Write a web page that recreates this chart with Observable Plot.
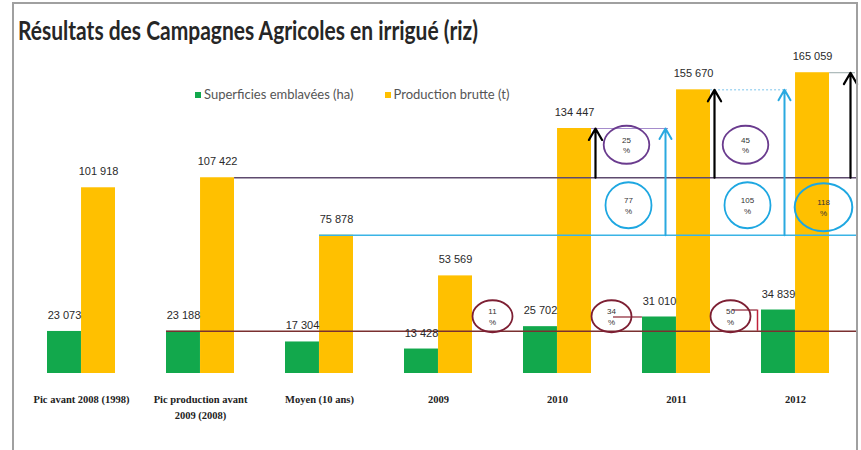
<!DOCTYPE html>
<html>
<head>
<meta charset="utf-8">
<script src="https://cdn.jsdelivr.net/npm/d3@7"></script>
<script src="https://cdn.jsdelivr.net/npm/@observablehq/plot@0.6"></script>
<style>
  html, body { margin: 0; padding: 0; background: #fff; }
  #wrap { position: relative; width: 861px; height: 450px; overflow: hidden; }
  #frame { position: absolute; left: 12px; top: 2px; width: 846px; height: 460px; border: 2px solid #a0a0a0; box-sizing: border-box; pointer-events: none; }
  #title { position: absolute; left: 18px; top: 14px; font-family: Lato, "Open Sans", sans-serif; font-weight: bold; font-size: 26px; color: #262626; white-space: nowrap; transform-origin: 0 0; }
  #legend { position: absolute; left: 195px; top: 86px; font-family: Lato, "Open Sans", sans-serif; font-size: 13px; color: #555; white-space: nowrap; }
  .sw { display: inline-block; width: 6px; height: 6px; margin-right: 3px; vertical-align: 1px; }
  .item { display: inline-block; margin-right: 31px; }
  #chart { position: absolute; left: 0; top: 0; }
</style>
</head>
<body>
<div id="wrap">
  <div id="chart"></div>
  <div id="title">Résultats des Campagnes Agricoles en irrigué (riz)</div>
  <div id="legend"></div>
  <div id="frame"></div>
</div>
<script>
// ---- data ----
const categories = ["Pic avant 2008 (1998)", "Pic production avant\n2009 (2008)", "Moyen (10 ans)", "2009", "2010", "2011", "2012"];
const superficies = [23073, 23188, 17304, 13428, 25702, 31010, 34839];
const production = [101918, 107422, 75878, 53569, 134447, 155670, 165059];
const seriesNames = ["Superficies emblavées (ha)", "Production brutte (t)"];
const seriesColors = ["#12a84c", "#ffc000"];

// reference levels
const refSup = superficies[1];      // 23 188
const refProdPic = production[1];   // 107 422
const refProdMoy = production[2];   // 75 878

// percentage annotations
const supGain = [{cat: "2010", label: "11\n%"}, {cat: "2011", label: "34\n%"}, {cat: "2012", label: "50\n%"}];
const picGain = [{cat: "2010", label: "25\n%"}, {cat: "2011", label: "45\n%"}];
const moyGain = [{cat: "2010", label: "77\n%"}, {cat: "2011", label: "105\n%"}];
const moyGain2012 = [{cat: "2012", label: "118\n%"}];

// ---- build ----
const fmt = v => d3.format(",")(v).replace(/,/g, " ");
const rows = categories.map((c, i) => ({cat: c, sup: superficies[i], prod: production[i]}));
const byCat = Object.fromEntries(rows.map(r => [r.cat, r]));
const last = categories[categories.length - 1];

const W = 861, H = 450, mL = 20, mR = 5, mT = 45, mB = 77;
const step = (W - mL - mR) / categories.length;
const bw = step * 0.57;

function ellipse(aspect) {
  return {
    draw(ctx, size) {
      const r = Math.sqrt(size / Math.PI), rx = r * aspect, ry = r, k = 0.5523;
      ctx.moveTo(rx, 0);
      ctx.bezierCurveTo(rx, k * ry, k * rx, ry, 0, ry);
      ctx.bezierCurveTo(-k * rx, ry, -rx, k * ry, -rx, 0);
      ctx.bezierCurveTo(-rx, -k * ry, -k * rx, -ry, 0, -ry);
      ctx.bezierCurveTo(k * rx, -ry, rx, -k * ry, rx, 0);
      ctx.closePath();
    }
  };
}

const lblFont = {fontFamily: "'Liberation Sans Narrow', 'Liberation Sans', sans-serif", fontSize: 11, fill: "#2a2a2a"};
const annFont = {fontFamily: "'Liberation Sans', sans-serif", fontSize: 8, fill: "#333", lineHeight: 1.3};

const chart = Plot.plot({
  width: W, height: H,
  marginLeft: mL, marginRight: mR, marginTop: mT, marginBottom: mB,
  x: {type: "band", domain: categories, paddingInner: 0.43, paddingOuter: 0.215, axis: null},
  y: {domain: [0, 180000], axis: null},
  marks: [
    // bars
    Plot.barY(rows, {x: "cat", y: "sup", fill: seriesColors[0], insetRight: bw / 2}),
    Plot.barY(rows, {x: "cat", y: "prod", fill: seriesColors[1], insetLeft: bw / 2}),
    // reference lines (to the right edge)
    Plot.ruleY([{x1: categories[1], x2: last, y: refSup}], {x1: "x1", x2: "x2", y: "y", stroke: "#7a3030", strokeWidth: 1.5, insetRight: -28}),
    Plot.ruleY([{x1: categories[1], x2: last, y: refProdPic}], {x1: "x1", x2: "x2", y: "y", stroke: "#5e4a6e", strokeWidth: 1.3, insetLeft: bw, insetRight: -28}),
    Plot.ruleY([{x1: categories[2], x2: last, y: refProdMoy}], {x1: "x1", x2: "x2", y: "y", stroke: "#3ab4e6", strokeWidth: 1.5, insetLeft: bw / 2, insetRight: -28}),
    // thin top level lines
    Plot.ruleY([{c: "2010", y: byCat["2010"].prod}], {x1: "c", x2: "c", y: "y", stroke: "#a58ccc", strokeWidth: 1, insetLeft: bw, insetRight: -77}),
    Plot.ruleY([{c: "2011", y: byCat["2011"].prod}], {x1: "c", x2: "c", y: "y", stroke: "#7cc4ec", strokeWidth: 1, strokeDasharray: "2,2", insetLeft: bw, insetRight: -77}),
    Plot.ruleY([{c: "2012", y: byCat["2012"].prod}], {x1: "c", x2: "c", y: "y", stroke: "#9aa", strokeWidth: 1, insetLeft: bw, insetRight: -26}),
    // red connectors
    Plot.ruleY([{x1: "2010", x2: "2011", y: byCat["2011"].sup}], {x1: "x1", x2: "x2", y: "y", stroke: "#8b2233", strokeWidth: 1.2, insetLeft: 90, insetRight: bw}),
    Plot.ruleY([{x1: "2011", x2: "2012", y: byCat["2012"].sup}], {x1: "x1", x2: "x2", y: "y", stroke: "#8b2233", strokeWidth: 1.2, insetLeft: 90, insetRight: bw + 4}),
    Plot.ruleX([{x: "2012", y1: refSup, y2: byCat["2012"].sup}], {x: "x", y1: "y1", y2: "y2", stroke: "#c0203a", strokeWidth: 1.5, dx: -38}),
    // arrows: black from pic level to bar top
    Plot.arrow(["2010", "2011"], {x1: d => d, x2: d => d, y1: () => refProdPic, y2: d => byCat[d].prod, stroke: "#000", strokeWidth: 2.2, headLength: 9, dx: 38}),
    Plot.arrow(["2012"], {x1: d => d, x2: d => d, y1: () => refProdPic, y2: d => byCat[d].prod, stroke: "#000", strokeWidth: 2.2, headLength: 9, dx: 55}),
    // arrows: cyan from moyen level to bar top level
    Plot.arrow(["2010", "2011"], {x1: d => d, x2: d => d, y1: () => refProdMoy, y2: d => byCat[d].prod, stroke: "#2aa9e0", strokeWidth: 2, headLength: 9, dx: 108}),
    // ellipses
    Plot.dot(supGain, {x: "cat", y: () => refSup, symbol: ellipse(1.25), r: 16, stroke: "#7d1f33", strokeWidth: 1.8, dx: -65, dy: -15}),
    Plot.text(supGain, {x: "cat", y: () => refSup, text: "label", dx: -65, dy: -15, ...annFont}),
    Plot.dot(picGain, {x: "cat", y: () => refProdPic, symbol: ellipse(1.2), r: 19, stroke: "#6a3b8e", strokeWidth: 1.8, dx: 69, dy: -33}),
    Plot.text(picGain, {x: "cat", y: () => refProdPic, text: "label", dx: 69, dy: -33, ...annFont}),
    Plot.dot(moyGain, {x: "cat", y: () => refProdMoy, symbol: ellipse(1.0), r: 23, stroke: "#1ea7e1", strokeWidth: 1.8, dx: 71, dy: -30}),
    Plot.text(moyGain, {x: "cat", y: () => refProdMoy, text: "label", dx: 71, dy: -30, ...annFont}),
    Plot.dot(moyGain2012, {x: "cat", y: () => refProdMoy, symbol: ellipse(1.2), r: 24, stroke: "#1ea7e1", strokeWidth: 2, dx: 28, dy: -28}),
    Plot.text(moyGain2012, {x: "cat", y: () => refProdMoy, text: "label", dx: 28, dy: -28, ...annFont}),
    // value labels
    Plot.text(rows, {x: "cat", y: "sup", text: d => fmt(d.sup), dx: -bw / 4, dy: -16, ...lblFont}),
    Plot.text(rows, {x: "cat", y: "prod", text: d => fmt(d.prod), dx: bw / 4, dy: -16, ...lblFont}),
    // category axis
    Plot.axisX({tickSize: 0, tickPadding: 19, anchor: "bottom", fontFamily: "'Liberation Serif', serif", fontWeight: "bold", fontSize: 10.5, fill: "#222", lineHeight: 1.45, label: null})
  ]
});
document.getElementById("chart").appendChild(chart);

// legend
const lg = document.getElementById("legend");
seriesNames.forEach((n, i) => {
  const s = document.createElement("span");
  s.className = "item";
  s.innerHTML = `<span class="sw" style="background:${seriesColors[i]}"></span>${n}`;
  lg.appendChild(s);
});

// fit title width
const t = document.getElementById("title");
const tw = t.getBoundingClientRect().width;
t.style.transform = `scaleX(${460 / tw})`;
</script>
</body>
</html>
